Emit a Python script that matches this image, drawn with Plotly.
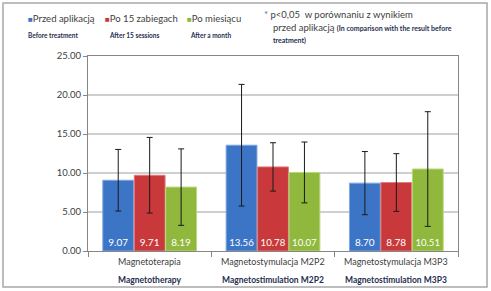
import plotly.graph_objects as go

categories = ["Magnetoterapia", "Magnetostymulacja M2P2", "Magnetostymulacja M3P3"]
categories_en = ["Magnetotherapy", "Magnetostimulation M2P2", "Magnetostimulation M3P3"]
series_names = ["Przed aplikacją", "Po 15 zabiegach", "Po miesiącu"]
series_names_en = ["Before treatment", "After 15 sessions", "After a month"]
before = [9.07, 13.56, 8.70]
after15 = [9.71, 10.78, 8.78]
after_month = [8.19, 10.07, 10.51]
err_before = [3.95, 7.80, 4.05]
err_after15 = [4.85, 3.10, 3.70]
err_month = [4.90, 3.90, 7.35]
y_ticks = [0, 5, 10, 15, 20, 25]

colors = ["#3D75C6", "#C9393B", "#8FB83C"]
edge = ["#7FA6DE", "#E07C7E", "#B9D77A"]
FONT = "Lato, 'Open Sans', sans-serif"

fig = go.Figure()
for vals, errs, name, c, e in zip([before, after15, after_month],
                                  [err_before, err_after15, err_month],
                                  series_names, colors, edge):
    fig.add_trace(go.Bar(
        x=categories, y=vals, name=name,
        marker=dict(color=c, line=dict(color=e, width=1)),
        error_y=dict(type="data", array=errs, visible=True, color="#1a1a1a",
                     thickness=1, width=3),
        text=[f"{v:.2f}" for v in vals], textposition="inside",
        insidetextanchor="start", textangle=0,
        textfont=dict(color="white", size=10, family=FONT),
        showlegend=False,
    ))

fig.update_layout(
    width=491, height=291,
    margin=dict(l=88, r=33, t=56, b=40),
    paper_bgcolor="white", plot_bgcolor="white",
    barmode="group", bargap=0.235, bargroupgap=0.02,
    font=dict(family=FONT, color="#404040", size=10),
)
fig.update_yaxes(range=[0, 25], tickvals=y_ticks, tickformat=".2f",
                 showgrid=True, gridcolor="#cfcfcf", gridwidth=2,
                 showline=True, linecolor="#868686", linewidth=1, mirror=True,
                 ticks="outside", ticklen=4, tickcolor="#868686",
                 tickfont=dict(size=9.5, color="#404040"), zeroline=False)
fig.update_xaxes(showticklabels=False, showline=True, linecolor="#868686",
                 linewidth=1, mirror=True, ticks="outside", ticklen=5,
                 tickcolor="#868686", tickson="boundaries", showgrid=False)

# category labels (two lines)
for cat, en in zip(categories, categories_en):
    fig.add_annotation(x=cat, y=-0.015, xref="x", yref="paper", text=cat,
                       showarrow=False, yanchor="top",
                       font=dict(size=9, color="#404040", family=FONT))
    fig.add_annotation(x=cat, y=-0.115, xref="x", yref="paper", text=f"<b>{en}</b>",
                       showarrow=False, yanchor="top",
                       font=dict(size=8.5, color="#1F2F4F", family=FONT))

# legend-like annotations
leg_x = [26, 103, 185]
sub_x = [53, 134, 210]
for name, en, c, lx, sx in zip(series_names, series_names_en, colors, leg_x, sub_x):
    fig.add_annotation(x=(lx - 88) / 370, y=(251 - 18) / 195, xref="paper", yref="paper",
                       text=f"<span style='color:{c};font-size:8px'>■</span>{name}",
                       showarrow=False, xanchor="left", yanchor="middle",
                       font=dict(size=9.5, color="#404040", family=FONT))
    fig.add_annotation(x=(sx - 88) / 370, y=(251 - 36) / 195, xref="paper", yref="paper",
                       text=f"<b>{en}</b>", showarrow=False, xanchor="center",
                       yanchor="middle",
                       font=dict(size=6.5, color="#1F2F4F", family=FONT))

# note
fig.add_annotation(x=(262 - 88) / 370, y=(251 - 14) / 195, xref="paper", yref="paper",
                   text="<span style='color:#3D75C6'>*</span> p<0,05  w porównaniu z wynikiem",
                   showarrow=False, xanchor="left", yanchor="middle",
                   font=dict(size=9.5, color="#404040", family=FONT))
fig.add_annotation(x=(271 - 88) / 370, y=(251 - 27) / 195, xref="paper", yref="paper",
                   text="przed aplikacją <b><span style='font-size:7px;color:#1F2F4F'>(In comparison with the result before</span></b>",
                   showarrow=False, xanchor="left", yanchor="middle",
                   font=dict(size=9.5, color="#404040", family=FONT))
fig.add_annotation(x=(271 - 88) / 370, y=(251 - 40) / 195, xref="paper", yref="paper",
                   text="<b>treatment)</b>",
                   showarrow=False, xanchor="left", yanchor="middle",
                   font=dict(size=7, color="#1F2F4F", family=FONT))

# outer frame
fig.add_shape(type="rect", xref="paper", yref="paper",
              x0=(3 - 88) / 370, x1=(487 - 88) / 370,
              y0=(251 - 287) / 195, y1=(251 - 3) / 195,
              line=dict(color="#a8a8a8", width=1.5), fillcolor="rgba(0,0,0,0)")

fig.write_html("out.html", config={"displayModeBar": False},
               post_script="document.body.style.margin='0';document.body.style.overflow='hidden';")
